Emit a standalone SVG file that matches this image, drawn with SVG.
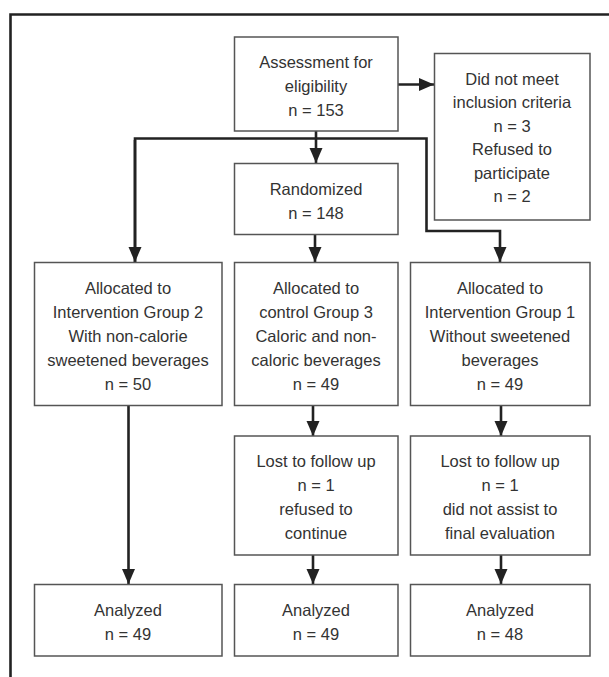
<svg xmlns="http://www.w3.org/2000/svg" width="609" height="677" viewBox="0 0 609 677">
<style>
.box{fill:#fff;stroke:#555;stroke-width:1.5}
.t{font-family:"Liberation Sans",Arial,sans-serif;font-size:16.5px;fill:#333;text-anchor:middle}
.c{fill:none;stroke:#222;stroke-width:2.6}
</style>
<defs>
<marker id="ah" markerUnits="userSpaceOnUse" markerWidth="16" markerHeight="14" refX="15" refY="6.5" orient="auto">
<path d="M0,0 L15,6.5 L0,13 z" fill="#222"/>
</marker>
</defs>
<rect width="609" height="677" fill="#fff"/>
<path d="M10.5,677 V14.5 H609" fill="none" stroke="#222" stroke-width="2.6"/>
<g id="connectors">
<path class="c" d="M316,131 V163" marker-end="url(#ah)"/>
<path class="c" d="M398,84.5 H434" marker-end="url(#ah)"/>
<path class="c" d="M135,262 V138.5 H426.5 V231 H500 V262" marker-end="url(#ah)"/>
<path class="c" d="M135,140 V262" marker-end="url(#ah)"/>
<path class="c" d="M315,235 V262" marker-end="url(#ah)"/>
<path class="c" d="M313,406 V436" marker-end="url(#ah)"/>
<path class="c" d="M501,406 V436" marker-end="url(#ah)"/>
<path class="c" d="M313,555 V584" marker-end="url(#ah)"/>
<path class="c" d="M501,555 V584" marker-end="url(#ah)"/>
<path class="c" d="M128.5,406 V584" marker-end="url(#ah)"/>
</g>
<g id="assessment">
<rect class="box" x="234.5" y="37" width="163.5" height="94"/>
<text class="t" x="316" y="68">Assessment for</text>
<text class="t" x="316" y="92">eligibility</text>
<text class="t" x="316" y="116">n = 153</text>
</g>
<g id="excluded">
<rect class="box" x="434.5" y="53.5" width="155.5" height="166.5"/>
<text class="t" x="512" y="84.5">Did not meet</text>
<text class="t" x="512" y="108">inclusion criteria</text>
<text class="t" x="512" y="131.5">n = 3</text>
<text class="t" x="512" y="155">Refused to</text>
<text class="t" x="512" y="178.5">participate</text>
<text class="t" x="512" y="202">n = 2</text>
</g>
<g id="randomized">
<rect class="box" x="234.5" y="163.5" width="163.5" height="71"/>
<text class="t" x="316" y="195">Randomized</text>
<text class="t" x="316" y="218.5">n = 148</text>
</g>
<g id="alloc2">
<rect class="box" x="34.5" y="262.5" width="187.5" height="143"/>
<text class="t" x="128" y="293.5">Allocated to</text>
<text class="t" x="128" y="317.5">Intervention Group 2</text>
<text class="t" x="128" y="341.5">With non-calorie</text>
<text class="t" x="128" y="365.5">sweetened beverages</text>
<text class="t" x="128" y="389.5">n = 50</text>
</g>
<g id="alloc3">
<rect class="box" x="234.5" y="262.5" width="163.5" height="143"/>
<text class="t" x="316" y="293.5">Allocated to</text>
<text class="t" x="316" y="317.5">control Group 3</text>
<text class="t" x="316" y="341.5">Caloric and non-</text>
<text class="t" x="316" y="365.5">caloric beverages</text>
<text class="t" x="316" y="389.5">n = 49</text>
</g>
<g id="alloc1">
<rect class="box" x="410.5" y="262.5" width="179.5" height="143"/>
<text class="t" x="500" y="293.5">Allocated to</text>
<text class="t" x="500" y="317.5">Intervention Group 1</text>
<text class="t" x="500" y="341.5">Without sweetened</text>
<text class="t" x="500" y="365.5">beverages</text>
<text class="t" x="500" y="389.5">n = 49</text>
</g>
<g id="lost3">
<rect class="box" x="234.5" y="436" width="163.5" height="119"/>
<text class="t" x="316" y="467">Lost to follow up</text>
<text class="t" x="316" y="491">n = 1</text>
<text class="t" x="316" y="515">refused to</text>
<text class="t" x="316" y="538.5">continue</text>
</g>
<g id="lost1">
<rect class="box" x="410.5" y="436" width="179.5" height="119"/>
<text class="t" x="500" y="467">Lost to follow up</text>
<text class="t" x="500" y="491">n = 1</text>
<text class="t" x="500" y="515">did not assist to</text>
<text class="t" x="500" y="538.5">final evaluation</text>
</g>
<g id="analyzed2">
<rect class="box" x="34.5" y="584.5" width="187.5" height="71.5"/>
<text class="t" x="128" y="616">Analyzed</text>
<text class="t" x="128" y="640">n = 49</text>
</g>
<g id="analyzed3">
<rect class="box" x="234.5" y="584.5" width="163.5" height="71.5"/>
<text class="t" x="316" y="616">Analyzed</text>
<text class="t" x="316" y="640">n = 49</text>
</g>
<g id="analyzed1">
<rect class="box" x="410.5" y="584.5" width="179.5" height="71.5"/>
<text class="t" x="500" y="616">Analyzed</text>
<text class="t" x="500" y="640">n = 48</text>
</g>
</svg>
